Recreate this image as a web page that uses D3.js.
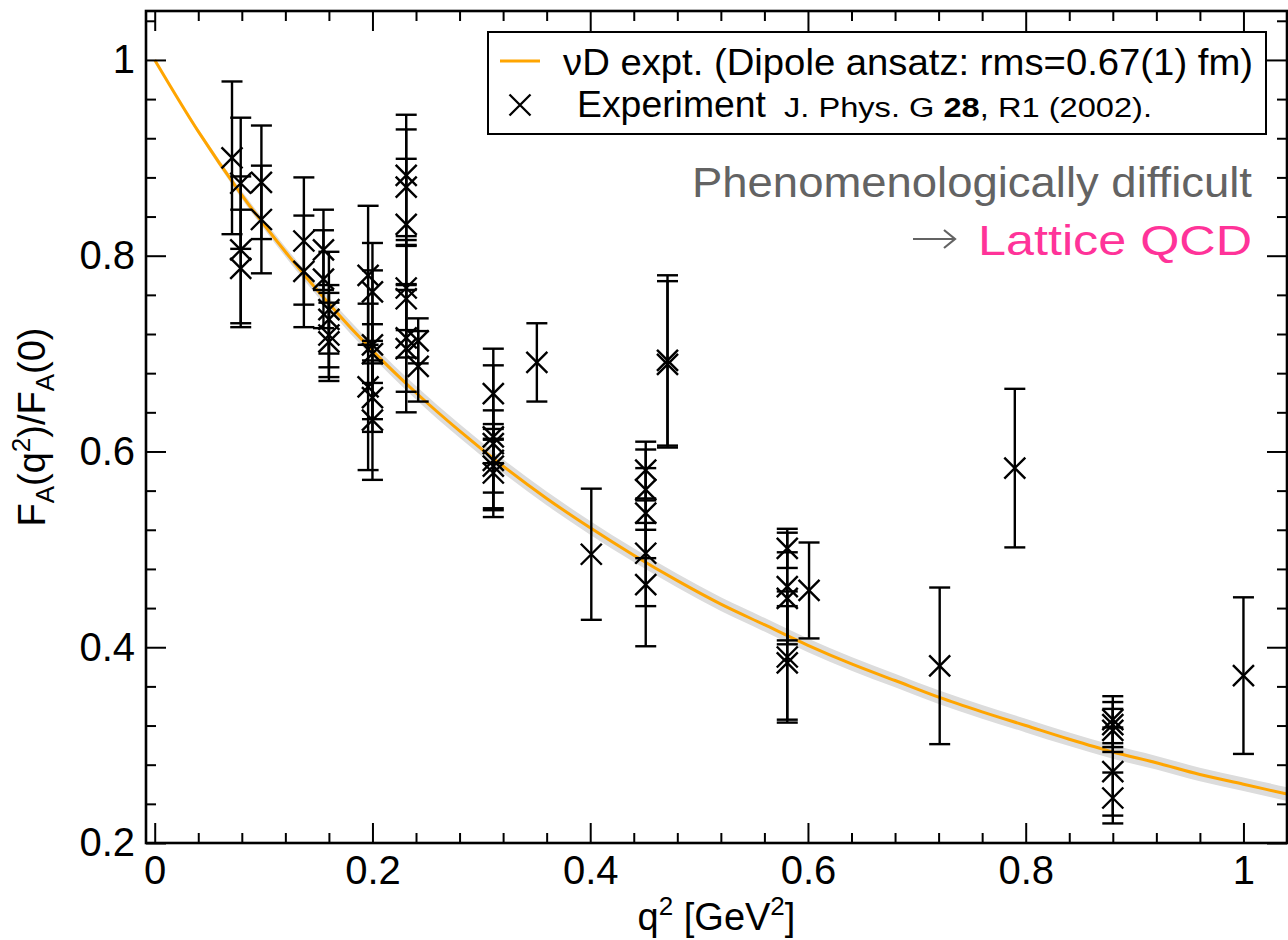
<!DOCTYPE html>
<html>
<head>
<meta charset="utf-8">
<script src="https://cdn.jsdelivr.net/npm/d3@7"></script>
<style>
  html, body { margin: 0; padding: 0; background: #fff; }
  svg { display: block; }
  text { font-family: "Liberation Sans", Arial, Helvetica, sans-serif; }
</style>
</head>
<body>
<svg id="chart" width="1288" height="940"></svg>
<script>
// experimental points: q^2 [GeV^2], F_A(q^2)/F_A(0), error
const q2 = [0.071, 0.079, 0.079, 0.079, 0.098, 0.098, 0.137, 0.137, 0.155, 0.155,
  0.160, 0.160, 0.160, 0.160, 0.196, 0.200, 0.200, 0.200, 0.196, 0.200,
  0.200, 0.231, 0.231, 0.231, 0.231, 0.231, 0.231, 0.231, 0.242, 0.242,
  0.311, 0.311, 0.311, 0.311, 0.311, 0.311, 0.351, 0.401, 0.451, 0.451,
  0.451, 0.451, 0.451, 0.471, 0.471, 0.581, 0.581, 0.581, 0.581, 0.581,
  0.601, 0.721, 0.790, 0.880, 0.880, 0.880, 0.880, 0.880, 1.000];
const ratio = [0.900, 0.874, 0.806, 0.787, 0.875, 0.837, 0.815, 0.784, 0.806, 0.776,
  0.745, 0.735, 0.719, 0.712, 0.780, 0.763, 0.709, 0.700, 0.666, 0.655,
  0.632, 0.882, 0.870, 0.832, 0.767, 0.756, 0.716, 0.705, 0.713, 0.687,
  0.659, 0.615, 0.608, 0.591, 0.585, 0.578, 0.691, 0.495, 0.581, 0.561,
  0.537, 0.496, 0.464, 0.693, 0.689, 0.501, 0.462, 0.450, 0.390, 0.384,
  0.458, 0.381, 0.583, 0.326, 0.321, 0.315, 0.273, 0.246, 0.371];
const err = [0.078, 0.067, 0.075, 0.060, 0.058, 0.055, 0.065, 0.057, 0.041, 0.050,
  0.059, 0.035, 0.043, 0.040, 0.071, 0.050, 0.076, 0.030, 0.085, 0.035,
  0.061, 0.062, 0.059, 0.067, 0.043, 0.060, 0.055, 0.065, 0.023, 0.036,
  0.046, 0.073, 0.020, 0.051, 0.027, 0.045, 0.040, 0.067, 0.029, 0.041,
  0.046, 0.054, 0.063, 0.087, 0.085, 0.020, 0.055, 0.047, 0.067, 0.058,
  0.049, 0.080, 0.081, 0.024, 0.023, 0.022, 0.045, 0.026, 0.080];

// dipole fit curve, with its half band width
const curveQ2 = [0, 0.04, 0.08, 0.12, 0.16, 0.20, 0.24, 0.28, 0.32, 0.36, 0.40, 0.44, 0.48,
  0.52, 0.56, 0.60, 0.64, 0.68, 0.72, 0.76, 0.80, 0.84, 0.88, 0.92, 0.96, 1.00, 1.04];
const curveF = [1.000, 0.927, 0.862, 0.804, 0.751, 0.703, 0.660, 0.621, 0.585, 0.552, 0.522, 0.494, 0.468,
  0.444, 0.423, 0.402, 0.383, 0.366, 0.349, 0.334, 0.320, 0.306, 0.293, 0.282, 0.270, 0.260, 0.250];
const bandHalf = [0, 0.0025, 0.004, 0.005, 0.006, 0.0065, 0.0068, 0.007, 0.007, 0.007, 0.007, 0.007, 0.007,
  0.007, 0.007, 0.007, 0.007, 0.007, 0.007, 0.007, 0.007, 0.007, 0.007, 0.007, 0.007, 0.007, 0.007];

const xMajor = [0, 0.2, 0.4, 0.6, 0.8, 1];
const yMajor = [0.2, 0.4, 0.6, 0.8, 1];
const xLabels = ['0', '0.2', '0.4', '0.6', '0.8', '1'];
const yLabels = ['0.2', '0.4', '0.6', '0.8', '1'];

const svg = d3.select('#chart');
const plot = { left: 146, right: 1287, top: 11, bottom: 843 };

const x = d3.scaleLinear().domain([-0.008, 1.04]).range([plot.left, plot.right]);
const y = d3.scaleLinear().domain([0.2, 1.05]).range([plot.bottom, plot.top]);

const xMinor = d3.range(0, 1.041, 0.04).filter(v => !xMajor.some(m => Math.abs(m - v) < 1e-6));
const yMinor = d3.range(0.2, 1.041, 0.04).filter(v => !yMajor.some(m => Math.abs(m - v) < 1e-6));

// error band + fit line
const curve = curveQ2.map((q, i) => ({ q, f: curveF[i], h: bandHalf[i] }));
svg.append('path')
  .datum(curve)
  .attr('fill', '#dcdcdc')
  .attr('d', d3.area()
    .x(d => x(d.q))
    .y0(d => y(d.f - d.h))
    .y1(d => y(d.f + d.h))
    .curve(d3.curveMonotoneX));

svg.append('path')
  .datum(curve)
  .attr('fill', 'none')
  .attr('stroke', '#ffa500')
  .attr('stroke-width', 3)
  .attr('d', d3.line().x(d => x(d.q)).y(d => y(d.f)).curve(d3.curveMonotoneX));

// data with error bars
const pts = q2.map((q, i) => ({ q, f: ratio[i], e: err[i] }));
const cap = 10.5, half = 10.5;
const g = svg.append('g').attr('stroke', '#000').attr('stroke-width', 2.4).attr('fill', 'none');
pts.forEach(d => {
  const cx = x(d.q), cy = y(d.f), yt = y(d.f + d.e), yb = y(d.f - d.e);
  g.append('line').attr('x1', cx).attr('x2', cx).attr('y1', yt).attr('y2', yb);
  g.append('line').attr('x1', cx - cap).attr('x2', cx + cap).attr('y1', yt).attr('y2', yt);
  g.append('line').attr('x1', cx - cap).attr('x2', cx + cap).attr('y1', yb).attr('y2', yb);
  g.append('path').attr('d', `M${cx - half},${cy - half}L${cx + half},${cy + half}M${cx - half},${cy + half}L${cx + half},${cy - half}`);
});

// frame and ticks (inside on all four sides)
function tickStyle(sel) {
  sel.select('.domain').remove();
  sel.selectAll('line').attr('stroke', '#000').attr('stroke-width', 2);
  sel.selectAll('text').attr('fill', '#000').attr('font-size', 40);
}
svg.append('g').attr('transform', `translate(0,${plot.bottom})`)
  .call(d3.axisBottom(x).tickValues(xMajor).tickSize(-20).tickPadding(13).tickFormat((d, i) => xLabels[i]))
  .call(tickStyle);
svg.append('g').attr('transform', `translate(0,${plot.bottom})`)
  .call(d3.axisBottom(x).tickValues(xMinor).tickSize(-10).tickFormat(''))
  .call(tickStyle);
svg.append('g').attr('transform', `translate(0,${plot.top})`)
  .call(d3.axisTop(x).tickValues(xMajor).tickSize(-20).tickFormat(''))
  .call(tickStyle);
svg.append('g').attr('transform', `translate(0,${plot.top})`)
  .call(d3.axisTop(x).tickValues(xMinor).tickSize(-10).tickFormat(''))
  .call(tickStyle);
svg.append('g').attr('transform', `translate(${plot.left},0)`)
  .call(d3.axisLeft(y).tickValues(yMajor).tickSize(-20).tickPadding(11).tickFormat((d, i) => yLabels[i]))
  .call(tickStyle);
svg.append('g').attr('transform', `translate(${plot.left},0)`)
  .call(d3.axisLeft(y).tickValues(yMinor).tickSize(-10).tickFormat(''))
  .call(tickStyle);
svg.append('g').attr('transform', `translate(${plot.right},0)`)
  .call(d3.axisRight(y).tickValues(yMajor).tickSize(-20).tickFormat(''))
  .call(tickStyle);
svg.append('g').attr('transform', `translate(${plot.right},0)`)
  .call(d3.axisRight(y).tickValues(yMinor).tickSize(-10).tickFormat(''))
  .call(tickStyle);

svg.append('rect')
  .attr('x', plot.left).attr('y', plot.top)
  .attr('width', plot.right - plot.left).attr('height', plot.bottom - plot.top)
  .attr('fill', 'none').attr('stroke', '#000').attr('stroke-width', 2.6);

// axis titles
const xTitle = svg.append('text')
  .attr('x', (plot.left + plot.right) / 2).attr('y', 930)
  .attr('text-anchor', 'middle').attr('font-size', 38);
xTitle.append('tspan').text('q');
xTitle.append('tspan').attr('font-size', 26).attr('dy', -15).text('2');
xTitle.append('tspan').attr('dy', 15).text(' [GeV');
xTitle.append('tspan').attr('font-size', 26).attr('dy', -15).text('2');
xTitle.append('tspan').attr('dy', 15).text(']');

const yTitle = svg.append('text')
  .attr('transform', `translate(45,${(plot.top + plot.bottom) / 2}) rotate(-90)`)
  .attr('text-anchor', 'middle').attr('font-size', 38);
yTitle.append('tspan').text('F');
yTitle.append('tspan').attr('font-size', 26).attr('dy', 9).text('A');
yTitle.append('tspan').attr('dy', -9).text('(q');
yTitle.append('tspan').attr('font-size', 26).attr('dy', -15).text('2');
yTitle.append('tspan').attr('dy', 15).text(')/F');
yTitle.append('tspan').attr('font-size', 26).attr('dy', 9).text('A');
yTitle.append('tspan').attr('dy', -9).text('(0)');

// legend
const lg = svg.append('g');
lg.append('rect').attr('x', 488).attr('y', 32).attr('width', 778).attr('height', 102)
  .attr('fill', '#fff').attr('stroke', '#000').attr('stroke-width', 2);
lg.append('line').attr('x1', 500).attr('x2', 540).attr('y1', 61).attr('y2', 61)
  .attr('stroke', '#ffa500').attr('stroke-width', 3);
lg.append('path').attr('d', 'M509.5,94.5L530.5,115.5M509.5,115.5L530.5,94.5')
  .attr('stroke', '#000').attr('stroke-width', 2.3);
lg.append('text').attr('x', 563).attr('y', 75).attr('font-size', 37)
  .attr('textLength', 690).attr('lengthAdjust', 'spacingAndGlyphs')
  .text('\u03BDD expt. (Dipole ansatz: rms=0.67(1) fm)');
lg.append('text').attr('x', 577).attr('y', 117).attr('font-size', 37)
  .attr('textLength', 189).attr('lengthAdjust', 'spacingAndGlyphs')
  .text('Experiment');
const ref = lg.append('text').attr('x', 784).attr('y', 117).attr('font-size', 27)
  .attr('textLength', 368).attr('lengthAdjust', 'spacingAndGlyphs');
ref.append('tspan').text('J. Phys. G ');
ref.append('tspan').attr('font-weight', 'bold').text('28');
ref.append('tspan').text(', R1 (2002).');

// annotation
svg.append('text').attr('x', 692).attr('y', 197).attr('font-size', 42)
  .attr('font-family', 'Lato, "Open Sans", sans-serif').attr('fill', '#636363')
  .attr('textLength', 560).attr('lengthAdjust', 'spacingAndGlyphs')
  .text('Phenomenologically difficult');
svg.append('path')
  .attr('d', 'M913,239H954M944,230L955,239L944,248')
  .attr('fill', 'none').attr('stroke', '#636363').attr('stroke-width', 2.2);
svg.append('text').attr('x', 978).attr('y', 255).attr('font-size', 42)
  .attr('font-family', 'Lato, "Open Sans", sans-serif').attr('fill', '#ff3399')
  .attr('textLength', 274).attr('lengthAdjust', 'spacingAndGlyphs')
  .text('Lattice QCD');
</script>
</body>
</html>
